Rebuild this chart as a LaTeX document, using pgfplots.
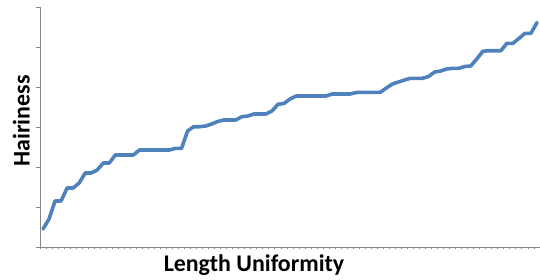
\documentclass[border=0pt]{standalone}
\usepackage{pgfplots}
\pgfplotsset{compat=1.18}
\usepackage{fontspec}
\setmainfont{Carlito}
\pgfplotstableread{
i v
0 18
1 28
2 46
3 46
4 59
5 59
6 64
7 74
8 74
9 77
10 84
11 84
12 92
13 92
14 92
15 92
16 97
17 97
18 97
19 97
20 97
21 97
22 98.7
23 98.7
24 116
25 120.3
26 120.3
27 121
28 123
29 125.5
30 127
31 127
32 127
33 130.3
34 131
35 133
36 133
37 133
38 136
39 142.7
40 143.5
41 148
42 151
43 151
44 151
45 151
46 151
47 151
48 153
49 153
50 153
51 153
52 154.5
53 154.7
54 154.7
55 154.7
56 154.7
57 159
58 163
59 165
60 167
61 168.7
62 168.7
63 168.7
64 170.5
65 175
66 176
67 178
68 178.7
69 178.7
70 180.5
71 181
72 188
73 195.7
74 196.3
75 196.3
76 196.3
77 203.7
78 203.7
79 208.5
80 213.7
81 213.7
82 224.5
}\datatable
\definecolor{xlblue}{RGB}{79,129,189}
\definecolor{axgray}{RGB}{134,134,134}
\begin{document}
\begin{tikzpicture}
\begin{axis}[
  scale only axis,
  width=500bp, height=240bp,
  xmin=-0.5, xmax=82.5,
  ymin=0, ymax=240,
  axis lines*=left,
  axis line style={axgray, line width=0.9bp},
  xtick={-0.5,0.5,...,82.5},
  ytick={0,40,...,240},
  xticklabels={}, yticklabels={},
  tick align=outside,
  major tick length=4bp,
  xtick style={axgray, line width=0.9bp, /pgfplots/major tick length=2bp},
  ytick style={axgray, line width=0.9bp},
  clip=false,
  label style={font=\bfseries\fontsize{24}{28}\selectfont},
  xlabel={Length Uniformity},
  ylabel={Hairiness},
  xlabel style={at={(axis description cs:0.428,0)}, anchor=base, yshift=-24.7bp, inner sep=0pt},
  ylabel style={at={(axis description cs:-0.021,0.525)}, anchor=base, inner sep=0pt},
]
\addplot[xlblue, line width=3.6bp, line join=round, line cap=round] table[x=i, y=v] {\datatable};
\end{axis}
\pgfresetboundingbox
\path[use as bounding box] ([shift={(-40bp,-32bp)}]current axis.south west) rectangle ([shift={(0bp,7bp)}]current axis.north east);
\end{tikzpicture}
\end{document}
